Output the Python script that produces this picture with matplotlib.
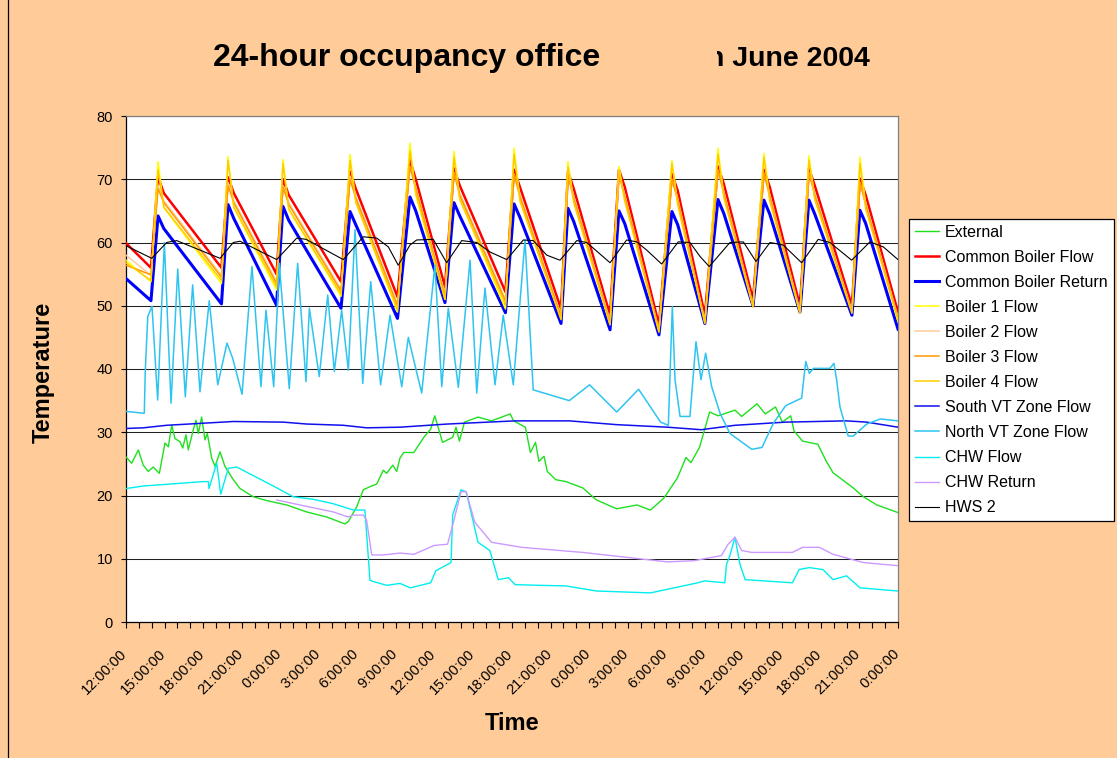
import matplotlib
matplotlib.use('Agg')
import matplotlib.pyplot as plt
from matplotlib.lines import Line2D
from matplotlib.transforms import Bbox, TransformedBbox, ScaledTranslation

plt.rcParams['font.family'] = ['Liberation Sans', 'DejaVu Sans']

# ---------------- data (time in hours from 12:00 on day 1) ----------------
x_labels = ["12:00:00", "15:00:00", "18:00:00", "21:00:00", "0:00:00", "3:00:00",
            "6:00:00", "9:00:00", "12:00:00", "15:00:00", "18:00:00", "21:00:00",
            "0:00:00", "3:00:00", "6:00:00", "9:00:00", "12:00:00", "15:00:00",
            "18:00:00", "21:00:00", "0:00:00"]
y_ticks = [0, 10, 20, 30, 40, 50, 60, 70, 80]

# boiler firing cycles: time of trough (start of rise), peak, and shoulder after peak
cycle_trough_h = [1.94, 7.42, 11.70, 16.71, 21.10, 24.79, 29.49, 33.81, 37.62, 41.42, 44.99, 48.73, 52.38, 56.42]
cycle_peak_h = [2.49, 7.93, 12.20, 17.41, 22.07, 25.49, 30.16, 34.35, 38.31, 42.43, 46.01, 49.58, 53.08, 57.04]
cycle_shoulder_h = [2.94, 8.38, 12.65, 17.86, 22.52, 25.94, 30.61, 34.80, 38.76, 42.88, 46.46, 50.03, 53.53, 57.49]

# (trough, peak, shoulder) values per cycle, plus start / end values
common_flow_ends = (59.9, 49.0)
common_flow = [(56.0, 70.4, 67.8), (56.0, 70.3, 67.8), (55.0, 70.0, 67.5), (53.8, 71.2, 68.5),
               (51.4, 73.0, 70.0), (53.0, 71.7, 69.0), (52.2, 71.5, 68.8), (49.5, 71.2, 68.5),
               (48.5, 71.5, 68.8), (47.0, 70.8, 68.2), (48.5, 72.0, 69.3), (51.0, 71.5, 68.8),
               (50.0, 71.7, 69.0), (50.0, 70.1, 67.5)]
common_return_ends = (54.3, 46.3)
common_return = [(50.8, 64.2, 62.2), (50.3, 66.0, 63.8), (50.1, 65.7, 63.5), (49.6, 64.9, 62.8),
                 (48.0, 67.2, 65.0), (50.5, 66.3, 64.2), (48.9, 66.1, 64.0), (47.2, 65.4, 63.3),
                 (46.2, 65.0, 63.0), (45.4, 64.9, 62.8), (47.2, 66.8, 64.6), (50.0, 66.7, 64.5),
                 (49.0, 66.7, 64.5), (48.5, 65.1, 63.0)]
boiler1_ends = (57.2, 47.5)
boiler1 = [(53.8, 72.8, 65.5), (53.5, 73.6, 65.5), (52.5, 73.1, 65.2), (51.5, 73.9, 66.5),
           (49.0, 75.7, 67.5), (51.0, 74.4, 67.0), (49.5, 74.9, 67.0), (48.0, 72.8, 66.5),
           (47.0, 72.0, 66.8), (46.0, 73.0, 66.0), (47.5, 74.9, 67.5), (50.0, 74.1, 67.0),
           (49.0, 73.7, 67.0), (49.0, 73.5, 66.0)]
boiler2_ends = (58.0, 48.2)
boiler2 = [(54.8, 69.0, 66.6), (54.8, 69.5, 66.6), (53.8, 69.0, 66.3), (52.6, 70.5, 67.3),
           (50.2, 72.0, 68.8), (51.8, 71.0, 67.8), (51.0, 70.8, 67.6), (48.5, 70.5, 67.3),
           (47.6, 70.8, 67.6), (46.2, 70.0, 67.0), (47.6, 71.2, 68.1), (50.2, 70.8, 67.6),
           (49.2, 71.0, 67.8), (49.2, 69.5, 66.3)]
boiler3_ends = (56.4, 48.0)
boiler3 = [(54.9, 68.5, 66.3), (54.5, 69.0, 66.3), (53.5, 68.8, 66.0), (52.3, 70.0, 67.0),
           (50.0, 72.0, 68.5), (51.5, 71.0, 67.5), (50.7, 70.8, 67.3), (48.3, 70.5, 67.0),
           (47.3, 70.8, 67.3), (46.0, 70.0, 66.7), (47.3, 71.5, 67.8), (50.0, 71.0, 67.3),
           (49.0, 71.0, 67.5), (49.0, 69.5, 66.0)]
boiler4_ends = (56.8, 47.8)
boiler4 = [(54.0, 71.5, 65.6), (54.0, 73.0, 65.6), (53.0, 72.5, 65.3), (51.8, 73.0, 66.3),
           (49.4, 74.5, 67.8), (51.0, 73.5, 66.8), (50.2, 74.0, 66.6), (47.8, 72.0, 66.3),
           (47.0, 71.5, 66.6), (45.8, 72.5, 66.0), (47.2, 74.0, 67.1), (49.8, 73.5, 66.6),
           (48.8, 73.0, 66.8), (48.8, 72.5, 65.3)]

external = [(0.0, 26.1), (0.44, 25.1), (0.96, 27.2), (1.34, 24.8), (1.73, 23.8), (2.12, 24.5),
            (2.59, 23.5), (3.03, 28.3), (3.29, 27.7), (3.55, 31.1), (3.81, 29.0), (4.20, 28.5),
            (4.41, 27.5), (4.66, 29.6), (4.84, 27.2), (5.23, 30.4), (5.44, 31.9), (5.62, 29.8),
            (5.88, 32.4), (6.14, 28.8), (6.32, 29.8), (6.66, 25.9), (6.92, 24.6), (7.31, 26.9),
            (7.69, 24.6), (8.34, 22.5), (8.86, 21.1), (9.89, 19.8), (10.93, 19.2), (12.49, 18.5),
            (14.04, 17.4), (15.60, 16.6), (17.02, 15.5), (17.28, 15.9), (17.93, 18.2), (18.44, 20.9),
            (18.96, 21.4), (19.48, 21.8), (20.00, 24.0), (20.26, 23.5), (20.73, 24.8), (21.04, 23.8),
            (21.29, 25.9), (21.58, 26.8), (22.37, 26.8), (23.15, 29.2), (23.68, 30.5), (24.00, 32.6),
            (24.60, 28.4), (25.39, 29.2), (25.65, 30.8), (25.91, 28.6), (26.31, 31.6), (27.36, 32.4),
            (28.41, 31.8), (29.86, 32.9), (30.12, 31.8), (31.04, 30.8), (31.43, 26.8), (31.83, 28.4),
            (32.09, 25.4), (32.49, 26.2), (32.74, 23.8), (33.40, 22.5), (34.19, 22.2), (35.50, 21.2),
            (36.56, 19.3), (38.13, 17.9), (39.71, 18.5), (40.76, 17.7), (41.81, 19.6), (42.86, 22.8),
            (43.52, 26.0), (43.91, 25.2), (44.57, 27.6), (45.36, 33.2), (46.02, 32.6), (47.33, 33.5),
            (47.85, 32.5), (49.04, 34.5), (49.69, 32.9), (50.48, 34.0), (51.01, 31.6), (51.66, 32.6),
            (51.92, 30.2), (52.58, 28.6), (53.77, 28.1), (54.43, 25.4), (54.95, 23.6), (56.52, 21.2),
            (57.31, 19.8), (58.36, 18.5), (60.0, 17.3)]

south_vt = [(0.0, 30.6), (1.34, 30.7), (3.16, 31.1), (5.75, 31.4), (8.34, 31.7), (12.23, 31.6),
            (14.04, 31.3), (16.89, 31.1), (18.71, 30.7), (21.29, 30.8), (24.99, 31.3), (30.25, 31.8),
            (34.45, 31.8), (38.14, 31.2), (42.08, 30.8), (44.70, 30.4), (47.33, 31.1), (51.27, 31.6),
            (56.00, 31.8), (57.57, 31.6), (60.0, 30.8)]

north_vt = [(0.0, 33.3), (1.42, 33.0), (1.50, 39.8), (1.69, 48.3), (2.02, 49.9), (2.46, 35.1),
            (2.98, 60.0), (3.50, 34.6), (4.02, 55.8), (4.61, 35.6), (5.18, 53.3), (5.75, 36.4),
            (6.47, 50.8), (7.13, 37.5), (7.85, 44.1), (8.29, 41.7), (9.02, 36.0), (9.79, 56.2),
            (10.49, 37.2), (10.88, 49.3), (11.48, 37.2), (11.91, 56.7), (12.69, 36.9), (13.34, 56.7),
            (13.99, 38.0), (14.25, 49.6), (15.02, 38.8), (15.68, 51.7), (16.19, 39.6), (16.76, 49.3),
            (17.28, 39.8), (17.80, 62.0), (18.40, 37.7), (19.02, 53.8), (19.79, 37.5), (20.52, 48.5),
            (21.43, 37.2), (21.94, 45.0), (22.98, 36.2), (24.01, 56.4), (24.54, 37.2), (25.05, 49.6),
            (25.83, 37.1), (26.74, 57.2), (27.26, 36.2), (27.90, 52.8), (28.68, 37.5), (29.32, 48.5),
            (30.10, 37.5), (31.01, 60.4), (31.65, 36.7), (34.45, 35.0), (36.03, 37.5), (38.14, 33.2),
            (39.84, 36.8), (41.55, 31.6), (42.15, 31.1), (42.46, 49.9), (42.67, 38.3), (43.06, 32.5),
            (43.83, 32.5), (44.30, 44.3), (44.69, 38.3), (45.05, 42.5), (45.52, 37.2), (46.17, 33.0),
            (46.94, 29.8), (48.64, 27.3), (49.43, 27.6), (50.31, 31.4), (51.27, 34.2), (52.30, 35.2),
            (52.51, 35.4), (52.83, 41.2), (53.11, 39.3), (53.42, 40.1), (53.94, 40.1), (54.71, 40.1),
            (55.02, 40.9), (55.23, 38.3), (55.49, 34.0), (56.13, 29.4), (56.52, 29.4), (57.57, 31.3),
            (58.62, 32.1), (60.0, 31.8)]

chw_flow = [(0.0, 21.1), (1.34, 21.5), (6.01, 22.2), (6.40, 22.2), (6.45, 21.1), (7.05, 25.1),
            (7.36, 20.2), (7.95, 24.3), (8.60, 24.5), (11.45, 21.5), (13.00, 19.8), (14.56, 19.4),
            (16.11, 18.7), (17.67, 17.7), (18.57, 17.7), (18.96, 6.6), (19.22, 6.4), (20.26, 5.8),
            (21.29, 6.1), (22.10, 5.4), (23.68, 6.2), (24.08, 8.1), (25.26, 9.4), (25.39, 16.9),
            (26.04, 20.9), (26.44, 20.6), (27.36, 12.6), (28.28, 11.3), (28.93, 6.7), (29.73, 7.0),
            (30.25, 5.9), (34.19, 5.7), (36.56, 4.9), (40.76, 4.6), (44.44, 6.2), (44.96, 6.5),
            (46.54, 6.2), (46.67, 9.1), (46.93, 10.5), (47.33, 13.4), (47.72, 9.1), (48.12, 6.7),
            (51.79, 6.2), (52.32, 8.3), (53.10, 8.6), (54.16, 8.3), (54.95, 6.7), (56.00, 7.3),
            (57.05, 5.4), (60.0, 4.9)]

chw_return = [(11.71, 19.3), (13.52, 18.5), (16.11, 17.4), (17.28, 16.6), (17.67, 16.9), (18.44, 16.9),
              (18.70, 16.1), (19.10, 10.6), (20.00, 10.6), (21.29, 10.9), (22.37, 10.7), (23.95, 12.1),
              (24.99, 12.3), (25.39, 15.3), (26.04, 20.6), (26.44, 20.6), (27.10, 15.8), (28.41, 12.6),
              (30.78, 11.8), (35.50, 11.0), (42.08, 9.5), (44.18, 9.7), (46.27, 10.5), (46.80, 12.3),
              (47.33, 13.4), (47.85, 11.3), (48.64, 11.0), (51.79, 11.0), (52.58, 11.8), (53.90, 11.8),
              (54.95, 10.7), (57.31, 9.4), (60.0, 8.9)]

hws2 = [(0.0, 59.5), (2.00, 57.5), (3.16, 60.0), (3.94, 60.3), (7.31, 57.5), (8.34, 60.0),
        (8.86, 60.2), (11.71, 57.3), (13.27, 60.7), (13.99, 60.5), (16.89, 57.3), (18.44, 60.9),
        (19.48, 60.7), (20.39, 59.3), (21.16, 56.4), (22.07, 59.6), (22.59, 60.4), (23.88, 60.5),
        (24.92, 56.8), (26.09, 60.3), (27.26, 60.0), (28.29, 58.5), (29.59, 57.3), (30.88, 60.4),
        (31.65, 60.3), (32.70, 58.0), (33.73, 57.2), (35.03, 60.3), (35.81, 60.0), (37.62, 56.8),
        (38.91, 60.4), (39.69, 60.1), (40.47, 58.8), (41.63, 56.6), (42.92, 60.1), (43.83, 60.0),
        (44.61, 57.8), (45.33, 56.2), (46.94, 60.0), (47.98, 60.1), (48.96, 57.0), (50.05, 60.0),
        (51.08, 59.6), (52.51, 56.8), (53.80, 60.5), (54.71, 60.0), (56.40, 57.2), (57.82, 60.1),
        (58.86, 59.3), (60.0, 57.3)]


def boiler_path(ends, cycles):
    t, v = [0.0], [ends[0]]
    for (tr, pk, sh), th, ph, shh in zip(cycles, cycle_trough_h, cycle_peak_h, cycle_shoulder_h):
        t += [th, ph, shh]
        v += [tr, pk, sh]
    t.append(60.0)
    v.append(ends[1])
    return t, v


def pairs(p):
    return [a for a, _ in p], [b for _, b in p]


# ---------------- figure ----------------
W, H = 1117, 758
BG = '#FFCC99'
fig = plt.figure(figsize=(W / 100, H / 100), dpi=100, facecolor=BG)
ax = fig.add_axes([126 / W, 1 - 622 / H, 772 / W, 506 / H])
ax.set_facecolor('white')

series = [
    ('External', pairs(external), '#1EE01E', 1.0),
    ('Common Boiler Flow', boiler_path(common_flow_ends, common_flow), '#FF0000', 1.8),
    ('Common Boiler Return', boiler_path(common_return_ends, common_return), '#0000FF', 2.2),
    ('Boiler 1 Flow', boiler_path(boiler1_ends, boiler1), '#FFFF00', 1.1),
    ('Boiler 2 Flow', boiler_path(boiler2_ends, boiler2), '#FFCC99', 1.1),
    ('Boiler 3 Flow', boiler_path(boiler3_ends, boiler3), '#FF9900', 1.1),
    ('Boiler 4 Flow', boiler_path(boiler4_ends, boiler4), '#FFCC00', 1.1),
    ('South VT Zone Flow', pairs(south_vt), '#1010EE', 1.1),
    ('North VT Zone Flow', pairs(north_vt), '#2EC4F0', 1.1),
    ('CHW Flow', pairs(chw_flow), '#00EEEE', 1.0),
    ('CHW Return', pairs(chw_return), '#CC99FF', 1.0),
    ('HWS 2', pairs(hws2), '#000000', 0.8),
]

handles = []
for i, (name, (t, v), col, lw) in enumerate(series):
    ln, = ax.plot(t, v, color=col, lw=lw, label=name, zorder=3 + i * 0.01,
                  solid_joinstyle='round')
    handles.append(ln)

ax.set_xlim(0, 60)
ax.set_ylim(0, 80)
ax.set_yticks(y_ticks)
ax.yaxis.grid(True, color='#202020', lw=0.75)
ax.set_axisbelow(True)

hour_ticks = list(range(0, 61))
ax.set_xticks(hour_ticks)
labels = ['' for _ in hour_ticks]
for i, lab in enumerate(x_labels):
    labels[i * 3] = lab
ax.set_xticklabels(labels, rotation=45, ha='right', va='top', rotation_mode='anchor',
                   fontsize=10.5)
ax.tick_params(axis='x', direction='out', length=4, width=0.8, color='black', pad=13.5)
ax.tick_params(axis='y', direction='out', length=3.6, width=0.8, color='black', pad=5.8,
               labelsize=10.5)
offset = ScaledTranslation(-6 / 100, 0, fig.dpi_scale_trans)
for lab in ax.get_xticklabels():
    lab.set_transform(lab.get_transform() + offset)

for s in ['left', 'bottom']:
    ax.spines[s].set_color('black')
    ax.spines[s].set_linewidth(0.9)
for s in ['top', 'right']:
    ax.spines[s].set_color('#808080')
    ax.spines[s].set_linewidth(0.9)

# axis titles
fig.text(512 / W, 1 - 723 / H, 'Time', ha='center', va='center', fontsize=17,
         fontweight='bold')
fig.text(43 / W, 1 - 372 / H, 'Temperature', ha='center', va='center', rotation=90,
         fontsize=17, fontweight='bold')

# title (middle part of the original title is hidden)
fig.text(213 / W, 1 - 66 / H, '24-hour occupancy office', ha='left', va='baseline',
         fontsize=23, fontweight='bold')
t2 = fig.text(707 / W, 1 - 66 / H, 'n June 2004', ha='left', va='baseline',
              fontsize=20.5, fontweight='bold')
t2.set_clip_box(TransformedBbox(Bbox([[716.5 / W, 0], [1, 1]]), fig.transFigure))
t2.set_clip_on(True)

# legend
leg = fig.legend(handles, [s[0] for s in series], loc='upper left',
                 bbox_to_anchor=(908.5 / W, 1 - 218.5 / H), bbox_transform=fig.transFigure,
                 frameon=True, fancybox=False, edgecolor='black', facecolor='white',
                 framealpha=1, fontsize=11.5, handlelength=1.55, handletextpad=0.35,
                 borderpad=0.38, labelspacing=0.63, borderaxespad=0)
leg.get_frame().set_linewidth(0.9)

# left border of the chart area
fig.add_artist(Line2D([7.5 / W, 7.5 / W], [0, 1], color='black', lw=0.9,
                      transform=fig.transFigure))

fig.savefig('out.png', dpi=100, facecolor=BG)
